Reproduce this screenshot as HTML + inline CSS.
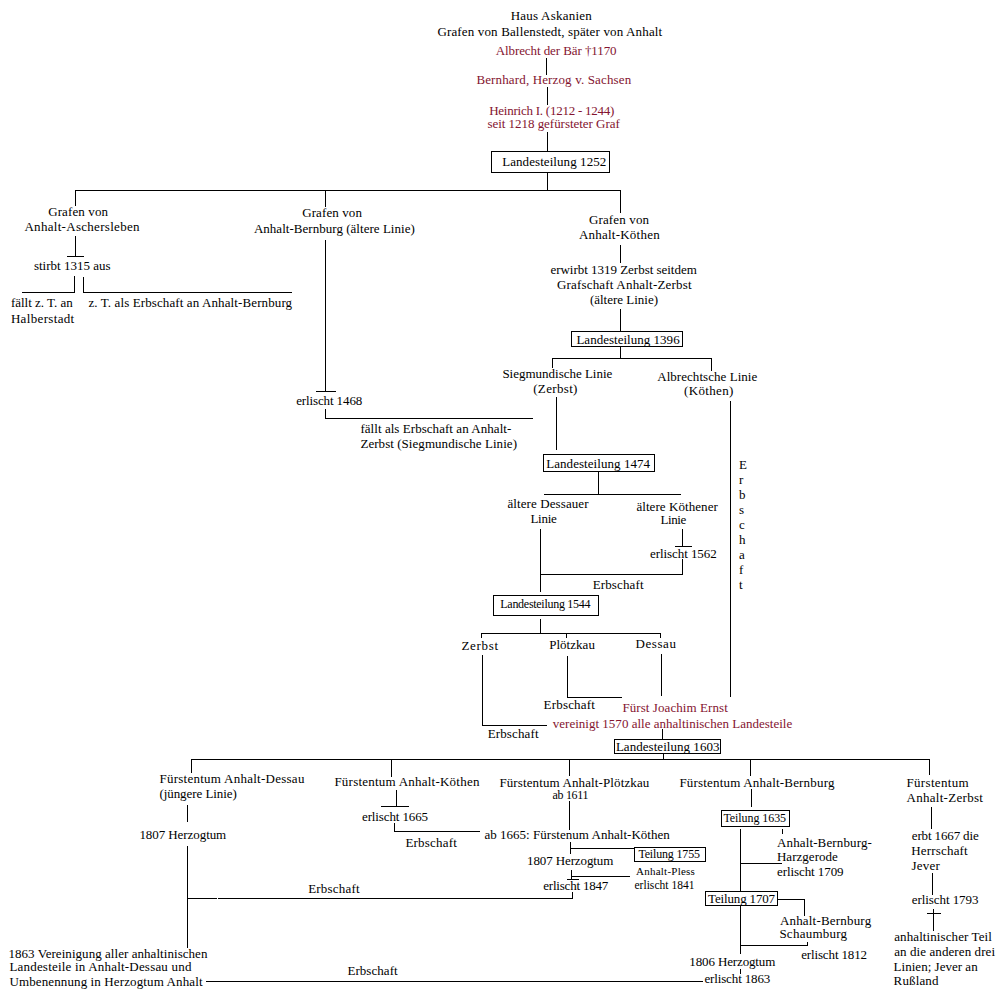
<!DOCTYPE html>
<html><head><meta charset="utf-8"><style>
html,body{margin:0;padding:0;background:#fff;}
body{width:1000px;height:1000px;position:relative;overflow:hidden;font-family:"Liberation Serif",serif;font-size:13px;color:#000;}
.t{position:absolute;white-space:nowrap;line-height:1;}
.l{position:absolute;background:#000;}
.b{position:absolute;border:1px solid #000;}

</style></head><body>
<div class="t" style="left:510.65px;top:8.86px;letter-spacing:0.24px">Haus Askanien</div>
<div class="t" style="left:437.40px;top:24.61px;letter-spacing:0.15px">Grafen von Ballenstedt, später von Anhalt</div>
<div class="t" style="left:495.65px;top:43.61px;letter-spacing:-0.08px;color:#841430">Albrecht der Bär †1170</div>
<div class="t" style="left:476.40px;top:72.86px;letter-spacing:0.14px;color:#841430">Bernhard, Herzog v. Sachsen</div>
<div class="t" style="left:489.15px;top:104.11px;letter-spacing:-0.24px;color:#841430">Heinrich I. (1212 - 1244)</div>
<div class="t" style="left:487.40px;top:117.11px;letter-spacing:-0.03px;color:#841430">seit 1218 gefürsteter Graf</div>
<div class="t" style="left:502.20px;top:155.11px;letter-spacing:0.07px">Landesteilung 1252</div>
<div class="t" style="left:48.15px;top:204.91px;letter-spacing:0.12px">Grafen von</div>
<div class="t" style="left:24.40px;top:220.11px;letter-spacing:0.30px">Anhalt-Aschersleben</div>
<div class="t" style="left:33.90px;top:258.61px;letter-spacing:0.01px">stirbt 1315 aus</div>
<div class="t" style="left:10.90px;top:296.11px">fällt z. T. an</div>
<div class="t" style="left:10.90px;top:311.61px;letter-spacing:0.34px">Halberstadt</div>
<div class="t" style="left:88.40px;top:296.11px;letter-spacing:0.11px">z. T. als Erbschaft an Anhalt-Bernburg</div>
<div class="t" style="left:302.20px;top:205.91px;letter-spacing:0.10px">Grafen von</div>
<div class="t" style="left:253.90px;top:221.61px;letter-spacing:0.03px">Anhalt-Bernburg (ältere Linie)</div>
<div class="t" style="left:296.20px;top:393.61px;letter-spacing:-0.12px">erlischt 1468</div>
<div class="t" style="left:360.40px;top:422.11px;letter-spacing:0.05px">fällt als Erbschaft an Anhalt-</div>
<div class="t" style="left:360.40px;top:436.61px;letter-spacing:0.05px">Zerbst (Siegmundische Linie)</div>
<div class="t" style="left:588.90px;top:212.61px;letter-spacing:0.15px">Grafen von</div>
<div class="t" style="left:578.90px;top:227.61px;letter-spacing:0.23px">Anhalt-Köthen</div>
<div class="t" style="left:550.40px;top:262.61px;letter-spacing:-0.02px">erwirbt 1319 Zerbst seitdem</div>
<div class="t" style="left:556.90px;top:277.61px;letter-spacing:0.19px">Grafschaft Anhalt-Zerbst</div>
<div class="t" style="left:589.90px;top:292.61px;letter-spacing:-0.01px">(ältere Linie)</div>
<div class="t" style="left:576.40px;top:332.91px;letter-spacing:0.02px">Landesteilung 1396</div>
<div class="t" style="left:502.40px;top:366.61px;letter-spacing:-0.01px">Siegmundische Linie</div>
<div class="t" style="left:533.20px;top:381.91px;letter-spacing:0.34px">(Zerbst)</div>
<div class="t" style="left:657.20px;top:370.11px;letter-spacing:0.05px">Albrechtsche Linie</div>
<div class="t" style="left:684.00px;top:383.91px;letter-spacing:0.34px">(Köthen)</div>
<div class="t" style="left:546.20px;top:457.11px;letter-spacing:0.06px">Landesteilung 1474</div>
<div class="t" style="left:507.40px;top:497.11px;letter-spacing:0.10px">ältere Dessauer</div>
<div class="t" style="left:530.40px;top:512.11px;letter-spacing:-0.27px">Linie</div>
<div class="t" style="left:636.40px;top:500.11px;letter-spacing:0.07px">ältere Köthener</div>
<div class="t" style="left:660.40px;top:512.71px;letter-spacing:-0.37px">Linie</div>
<div class="t" style="left:650.00px;top:546.91px;letter-spacing:-0.07px">erlischt 1562</div>
<div class="t" style="left:592.70px;top:577.71px;letter-spacing:0.13px">Erbschaft</div>
<div class="t" style="left:500.30px;top:597.95px;font-size:12px;letter-spacing:-0.28px">Landesteilung 1544</div>
<div class="t" style="left:461.40px;top:638.61px;letter-spacing:0.72px">Zerbst</div>
<div class="t" style="left:549.20px;top:637.91px;letter-spacing:0.03px">Plötzkau</div>
<div class="t" style="left:635.60px;top:637.31px;letter-spacing:0.55px">Dessau</div>
<div class="t" style="left:543.60px;top:698.01px;letter-spacing:0.18px">Erbschaft</div>
<div class="t" style="left:487.70px;top:726.51px;letter-spacing:0.13px">Erbschaft</div>
<div class="t" style="left:622.40px;top:700.71px;letter-spacing:0.08px;color:#841430">Fürst Joachim Ernst</div>
<div class="t" style="left:552.80px;top:716.81px;letter-spacing:0.01px;color:#841430">vereinigt 1570 alle anhaltinischen Landesteile</div>
<div class="t" style="left:615.90px;top:740.31px;letter-spacing:0.04px">Landesteilung 1603</div>
<div class="t" style="left:159.40px;top:772.11px;letter-spacing:0.26px">Fürstentum Anhalt-Dessau</div>
<div class="t" style="left:159.40px;top:786.61px;letter-spacing:-0.06px">(jüngere Linie)</div>
<div class="t" style="left:139.40px;top:828.11px;letter-spacing:-0.07px">1807 Herzogtum</div>
<div class="t" style="left:8.40px;top:946.61px;letter-spacing:0.05px">1863 Vereinigung aller anhaltinischen</div>
<div class="t" style="left:9.40px;top:960.11px;letter-spacing:0.20px">Landesteile in Anhalt-Dessau und</div>
<div class="t" style="left:9.40px;top:975.11px;letter-spacing:0.12px">Umbenennung in Herzogtum Anhalt</div>
<div class="t" style="left:334.40px;top:775.11px;letter-spacing:0.23px">Fürstentum Anhalt-Köthen</div>
<div class="t" style="left:362.00px;top:809.61px;letter-spacing:-0.12px">erlischt 1665</div>
<div class="t" style="left:405.40px;top:835.61px;letter-spacing:0.20px">Erbschaft</div>
<div class="t" style="left:308.15px;top:882.11px;letter-spacing:0.22px">Erbschaft</div>
<div class="t" style="left:347.40px;top:963.61px;letter-spacing:0.06px">Erbschaft</div>
<div class="t" style="left:499.40px;top:775.61px;letter-spacing:0.12px">Fürstentum Anhalt-Plötzkau</div>
<div class="t" style="left:552.40px;top:788.95px;font-size:12px;letter-spacing:-0.28px">ab 1611</div>
<div class="t" style="left:484.40px;top:827.71px;letter-spacing:0.03px">ab 1665: Fürstenum Anhalt-Köthen</div>
<div class="t" style="left:527.00px;top:853.71px;letter-spacing:-0.11px">1807 Herzogtum</div>
<div class="t" style="left:543.20px;top:878.51px;letter-spacing:-0.20px">erlischt 1847</div>
<div class="t" style="left:638.40px;top:847.75px;font-size:12px;letter-spacing:-0.17px">Teilung 1755</div>
<div class="t" style="left:636.00px;top:865.59px;font-size:11px;letter-spacing:0.24px">Anhalt-Pless</div>
<div class="t" style="left:634.40px;top:879.57px;font-size:11.5px;letter-spacing:0.04px">erlischt 1841</div>
<div class="t" style="left:679.40px;top:775.51px;letter-spacing:0.19px">Fürstentum Anhalt-Bernburg</div>
<div class="t" style="left:723.40px;top:811.75px;font-size:12px;letter-spacing:-0.07px">Teilung 1635</div>
<div class="t" style="left:777.00px;top:835.51px;letter-spacing:0.13px">Anhalt-Bernburg-</div>
<div class="t" style="left:776.90px;top:849.91px;letter-spacing:0.04px">Harzgerode</div>
<div class="t" style="left:777.00px;top:865.41px;letter-spacing:-0.08px">erlischt 1709</div>
<div class="t" style="left:708.10px;top:892.41px;letter-spacing:-0.16px">Teilung 1707</div>
<div class="t" style="left:779.90px;top:914.11px;letter-spacing:0.19px">Anhalt-Bernburg</div>
<div class="t" style="left:779.40px;top:927.11px;letter-spacing:0.25px">Schaumburg</div>
<div class="t" style="left:801.15px;top:948.41px;letter-spacing:-0.13px">erlischt 1812</div>
<div class="t" style="left:689.30px;top:955.41px;letter-spacing:-0.13px">1806 Herzogtum</div>
<div class="t" style="left:704.40px;top:972.41px;letter-spacing:-0.13px">erlischt 1863</div>
<div class="t" style="left:906.50px;top:776.11px;letter-spacing:0.32px">Fürstentum</div>
<div class="t" style="left:906.50px;top:790.81px;letter-spacing:0.29px">Anhalt-Zerbst</div>
<div class="t" style="left:911.80px;top:829.01px;letter-spacing:-0.14px">erbt 1667 die</div>
<div class="t" style="left:911.30px;top:844.01px;letter-spacing:0.17px">Herrschaft</div>
<div class="t" style="left:911.40px;top:859.21px;letter-spacing:0.23px">Jever</div>
<div class="t" style="left:911.80px;top:892.61px;letter-spacing:-0.07px">erlischt 1793</div>
<div class="t" style="left:894.20px;top:929.61px;letter-spacing:0.10px">anhaltinischer Teil</div>
<div class="t" style="left:894.20px;top:944.61px;letter-spacing:0.09px">an die anderen drei</div>
<div class="t" style="left:893.60px;top:959.61px;letter-spacing:0.02px">Linien; Jever an</div>
<div class="t" style="left:893.60px;top:974.41px;letter-spacing:0.14px">Rußland</div>
<div class="t" style="left:739.00px;top:458.11px">E</div>
<div class="t" style="left:739.00px;top:473.11px">r</div>
<div class="t" style="left:739.00px;top:488.11px">b</div>
<div class="t" style="left:739.00px;top:503.11px">s</div>
<div class="t" style="left:739.00px;top:518.11px">c</div>
<div class="t" style="left:739.00px;top:533.11px">h</div>
<div class="t" style="left:739.00px;top:548.11px">a</div>
<div class="t" style="left:739.00px;top:563.11px">f</div>
<div class="t" style="left:739.00px;top:578.11px">t</div>
<div class="l" style="left:75px;top:190px;width:546px;height:1px"></div>
<div class="l" style="left:75px;top:190px;width:1px;height:16px"></div>
<div class="l" style="left:325px;top:190px;width:1px;height:17px"></div>
<div class="l" style="left:546px;top:58px;width:1px;height:17px"></div>
<div class="l" style="left:547px;top:87px;width:1px;height:18px"></div>
<div class="l" style="left:547px;top:132px;width:1px;height:20px"></div>
<div class="l" style="left:547px;top:172px;width:1px;height:19px"></div>
<div class="l" style="left:620px;top:190px;width:1px;height:23px"></div>
<div class="l" style="left:75px;top:236px;width:1px;height:21px"></div>
<div class="l" style="left:67px;top:256px;width:17px;height:1px"></div>
<div class="l" style="left:74px;top:276px;width:1px;height:17px"></div>
<div class="l" style="left:22px;top:292px;width:53px;height:1px"></div>
<div class="l" style="left:83px;top:277px;width:1px;height:16px"></div>
<div class="l" style="left:83px;top:292px;width:209px;height:1px"></div>
<div class="l" style="left:325px;top:240px;width:1px;height:152px"></div>
<div class="l" style="left:316px;top:391px;width:20px;height:1px"></div>
<div class="l" style="left:325px;top:409px;width:1px;height:10px"></div>
<div class="l" style="left:325px;top:418px;width:208px;height:1px"></div>
<div class="l" style="left:620px;top:245px;width:1px;height:18px"></div>
<div class="l" style="left:620px;top:309px;width:1px;height:23px"></div>
<div class="l" style="left:620px;top:346px;width:1px;height:13px"></div>
<div class="l" style="left:552px;top:358px;width:160px;height:1px"></div>
<div class="l" style="left:552px;top:358px;width:1px;height:10px"></div>
<div class="l" style="left:711px;top:358px;width:1px;height:13px"></div>
<div class="l" style="left:556px;top:397px;width:1px;height:53px"></div>
<div class="l" style="left:730px;top:401px;width:1px;height:296px"></div>
<div class="l" style="left:598px;top:471px;width:1px;height:24px"></div>
<div class="l" style="left:544px;top:494px;width:137px;height:1px"></div>
<div class="l" style="left:540px;top:529px;width:1px;height:63px"></div>
<div class="l" style="left:682px;top:529px;width:1px;height:18px"></div>
<div class="l" style="left:675px;top:546px;width:17px;height:1px"></div>
<div class="l" style="left:682px;top:559px;width:1px;height:16px"></div>
<div class="l" style="left:540px;top:574px;width:143px;height:1px"></div>
<div class="l" style="left:540px;top:619px;width:1px;height:15px"></div>
<div class="l" style="left:481px;top:633px;width:180px;height:1px"></div>
<div class="l" style="left:481px;top:633px;width:1px;height:5px"></div>
<div class="l" style="left:566px;top:633px;width:1px;height:5px"></div>
<div class="l" style="left:660px;top:633px;width:1px;height:5px"></div>
<div class="l" style="left:482px;top:655px;width:1px;height:71px"></div>
<div class="l" style="left:482px;top:725px;width:65px;height:1px"></div>
<div class="l" style="left:567px;top:656px;width:1px;height:42px"></div>
<div class="l" style="left:567px;top:697px;width:55px;height:1px"></div>
<div class="l" style="left:661px;top:654px;width:1px;height:42px"></div>
<div class="l" style="left:662px;top:729px;width:1px;height:11px"></div>
<div class="l" style="left:663px;top:753px;width:1px;height:7px"></div>
<div class="l" style="left:191px;top:759px;width:739px;height:1px"></div>
<div class="l" style="left:191px;top:759px;width:1px;height:14px"></div>
<div class="l" style="left:391px;top:759px;width:1px;height:18px"></div>
<div class="l" style="left:569px;top:759px;width:1px;height:17px"></div>
<div class="l" style="left:750px;top:759px;width:1px;height:17px"></div>
<div class="l" style="left:929px;top:759px;width:1px;height:16px"></div>
<div class="l" style="left:187px;top:805px;width:1px;height:17px"></div>
<div class="l" style="left:187px;top:846px;width:1px;height:102px"></div>
<div class="l" style="left:187px;top:898px;width:30px;height:1px"></div>
<div class="l" style="left:218px;top:898px;width:355px;height:1px"></div>
<div class="l" style="left:396px;top:790px;width:1px;height:17px"></div>
<div class="l" style="left:381px;top:806px;width:28px;height:1px"></div>
<div class="l" style="left:394px;top:823px;width:1px;height:9px"></div>
<div class="l" style="left:394px;top:831px;width:86px;height:1px"></div>
<div class="l" style="left:569px;top:801px;width:1px;height:29px"></div>
<div class="l" style="left:570px;top:842px;width:1px;height:12px"></div>
<div class="l" style="left:570px;top:848px;width:65px;height:1px"></div>
<div class="l" style="left:571px;top:870px;width:1px;height:10px"></div>
<div class="l" style="left:567px;top:879px;width:12px;height:1px"></div>
<div class="l" style="left:571px;top:876px;width:59px;height:1px"></div>
<div class="l" style="left:572px;top:892px;width:1px;height:7px"></div>
<div class="l" style="left:751px;top:789px;width:1px;height:18px"></div>
<div class="l" style="left:740px;top:829px;width:1px;height:63px"></div>
<div class="l" style="left:782px;top:829px;width:1px;height:5px"></div>
<div class="l" style="left:740px;top:863px;width:42px;height:1px"></div>
<div class="l" style="left:777px;top:899px;width:28px;height:1px"></div>
<div class="l" style="left:804px;top:899px;width:1px;height:17px"></div>
<div class="l" style="left:740px;top:905px;width:1px;height:49px"></div>
<div class="l" style="left:740px;top:945px;width:68px;height:1px"></div>
<div class="l" style="left:807px;top:942px;width:1px;height:4px"></div>
<div class="l" style="left:740px;top:969px;width:1px;height:5px"></div>
<div class="l" style="left:206px;top:981px;width:497px;height:1px"></div>
<div class="l" style="left:931px;top:807px;width:1px;height:22px"></div>
<div class="l" style="left:932px;top:873px;width:1px;height:22px"></div>
<div class="l" style="left:933px;top:909px;width:1px;height:22px"></div>
<div class="l" style="left:927px;top:913px;width:14px;height:1px"></div>
<div class="b" style="left:491px;top:151px;width:117px;height:20px"></div>
<div class="b" style="left:571px;top:331px;width:110px;height:14px"></div>
<div class="b" style="left:543px;top:454px;width:110px;height:16px"></div>
<div class="b" style="left:493px;top:595px;width:104px;height:19px"></div>
<div class="b" style="left:614px;top:739px;width:105px;height:13px"></div>
<div class="b" style="left:634px;top:847px;width:70px;height:13px"></div>
<div class="b" style="left:721px;top:810px;width:67px;height:15px"></div>
<div class="b" style="left:705px;top:891px;width:71px;height:13px"></div>
</body></html>
